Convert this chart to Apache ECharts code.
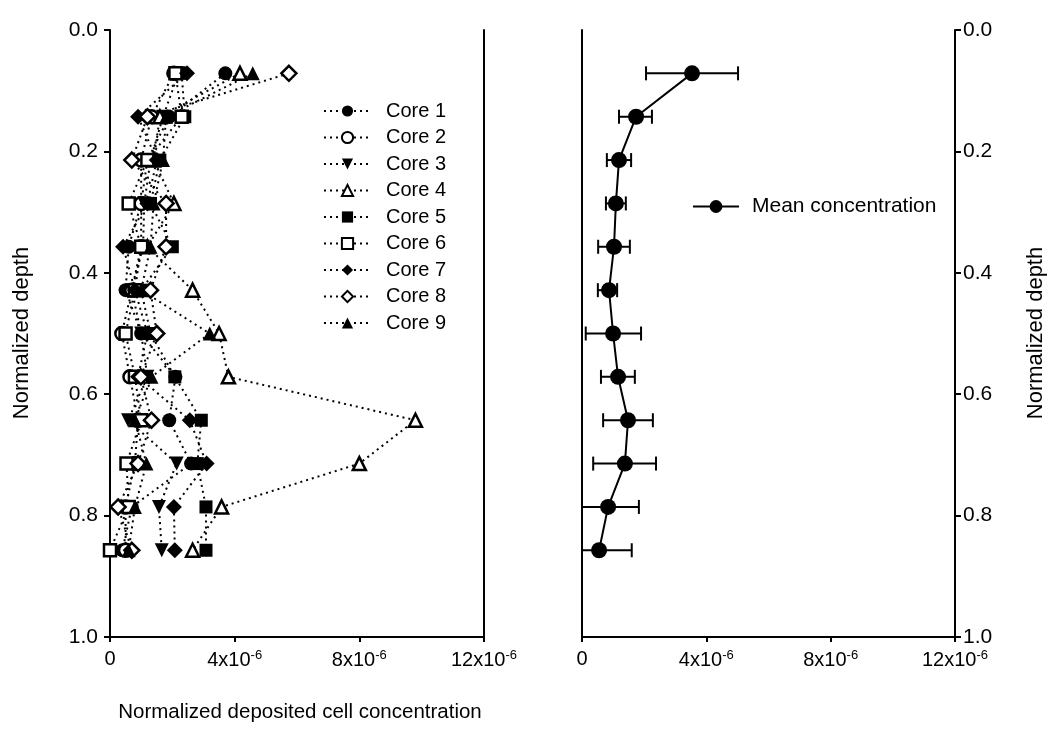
<!DOCTYPE html>
<html><head><meta charset="utf-8">
<script src="https://cdn.jsdelivr.net/npm/echarts@6/dist/echarts.min.js"></script>
<style>html,body{margin:0;padding:0;background:#fff}#c{width:1058px;height:741px}</style>
</head><body><div id="c"></div>
<script>
// values in units of 1e-6
const depths = [0.0714, 0.1429, 0.2143, 0.2857, 0.3571, 0.4286, 0.5, 0.5714, 0.6429, 0.7143, 0.7857, 0.8571];
const core1 = [3.7, 1.9, 1.2, 1.0, 0.6, 0.5, 1.0, 2.1, 1.9, 2.6, 0.7, 0.4];
const core2 = [2.05, 1.33, 1.0, 1.0, 1.0, 0.7, 0.38, 0.64, 0.9, 0.8, 0.5, 0.5];
const core3 = [2.2, 1.7, 1.3, 1.1, 1.06, 0.7, 1.0, 1.2, 0.58, 2.14, 1.57, 1.66];
const core4 = [4.17, 1.6, 1.4, 2.05, 1.2, 2.65, 3.5, 3.8, 9.8, 8.0, 3.58, 2.65];
const core5 = [2.3, 2.4, 1.6, 1.3, 2.0, 1.0, 1.3, 2.08, 2.93, 2.8, 3.08, 3.08];
const core6 = [2.1, 2.3, 1.2, 0.6, 1.0, 0.8, 0.5, 0.8, 1.0, 0.53, 0.6, 0.0];
const core7 = [2.47, 0.9, 1.5, 1.2, 0.42, 0.8, 1.2, 0.9, 2.56, 3.1, 2.05, 2.08];
const core8 = [5.74, 1.2, 0.7, 1.8, 1.8, 1.3, 1.5, 0.99, 1.33, 0.9, 0.26, 0.7];
const core9 = [4.58, 1.8, 1.7, 1.4, 1.3, 1.0, 3.2, 1.33, 0.8, 1.17, 0.8, 0.6];
const meanConc = [3.54, 1.74, 1.19, 1.09, 1.03, 0.87, 1.0, 1.16, 1.48, 1.38, 0.84, 0.55];
const errLow  = [1.48, 0.55, 0.39, 0.32, 0.51, 0.36, 0.88, 0.55, 0.80, 1.02, 0.99, 1.05];
const errHigh = [1.48, 0.51, 0.39, 0.32, 0.51, 0.26, 0.90, 0.54, 0.80, 1.00, 0.99, 1.05];
const depthTicks = [0, 0.2, 0.4, 0.6, 0.8, 1.0];
const concTicks = [0, 4, 8, 12];

const FONT = 'Liberation Sans';
const coreNames = ['Core 1','Core 2','Core 3','Core 4','Core 5','Core 6','Core 7','Core 8','Core 9'];
const coreData = [core1, core2, core3, core4, core5, core6, core7, core8, core9];
const sym = [
  {s:'circle', fill:true, size:14, rot:0},
  {s:'circle', fill:false, size:13, rot:0},
  {s:'triangle', fill:true, size:14, rot:180},
  {s:'triangle', fill:false, size:13, rot:0},
  {s:'rect', fill:true, size:13, rot:0},
  {s:'rect', fill:false, size:12, rot:0},
  {s:'diamond', fill:true, size:16, rot:0},
  {s:'diamond', fill:false, size:15, rot:0},
  {s:'triangle', fill:true, size:14, rot:0}
];

function xLabel(v){ return v === 0 ? '0' : v + 'x10{sup|-6}'; }

const yLabelStyle = {color:'#000', fontSize:21, fontFamily:FONT, formatter:v=>v.toFixed(1)};
const yAxisBase = {
  type:'value', min:0, max:1, interval:0.2, inverse:true,
  splitLine:{show:false},
  axisLine:{show:true, lineStyle:{color:'#000', width:2}},
  axisTick:{show:true, length:6, lineStyle:{color:'#000', width:2}},
  axisLabel:yLabelStyle
};
const yBorder = {
  type:'value', min:0, max:1, interval:0.2, inverse:true,
  splitLine:{show:false},
  axisLine:{show:true, lineStyle:{color:'#000', width:2}},
  axisTick:{show:false}, axisLabel:{show:false}
};
const xAxisBase = {
  type:'value', min:0, max:12, interval:4,
  splitLine:{show:false},
  axisLine:{show:true, onZero:false, lineStyle:{color:'#000', width:2}},
  axisTick:{show:true, length:5, lineStyle:{color:'#000', width:2}},
  axisLabel:{color:'#000', fontSize:20, fontFamily:FONT, margin:12, formatter:xLabel,
    rich:{sup:{fontSize:13, fontFamily:FONT, color:'#000', verticalAlign:'top', padding:[0,0,10,0]}}}
};

const series = coreData.map((arr, i) => ({
  name: coreNames[i], type:'line', xAxisIndex:0, yAxisIndex:0,
  data: arr.map((v, j) => [v, depths[j]]),
  symbol: sym[i].s, symbolSize: sym[i].size, symbolRotate: sym[i].rot,
  showSymbol:true,
  lineStyle:{color:'#000', width:2, type:[2,4]},
  itemStyle:{color: sym[i].fill ? '#000' : '#fff', borderColor:'#000', borderWidth: sym[i].fill ? 0 : 2.5},
  emphasis:{disabled:true}, animation:false
}));

series.push({
  name:'errbars', type:'custom', xAxisIndex:1, yAxisIndex:3, clip:true,
  data: meanConc.map((m, j) => [m - errLow[j], m + errHigh[j], depths[j]]),
  renderItem: function(params, api){
    const p1 = api.coord([api.value(0), api.value(2)]);
    const p2 = api.coord([api.value(1), api.value(2)]);
    const h = 7;
    const st = {stroke:'#000', lineWidth:2};
    return {type:'group', children:[
      {type:'line', shape:{x1:p1[0], y1:p1[1], x2:p2[0], y2:p2[1]}, style:st},
      {type:'line', shape:{x1:p1[0], y1:p1[1]-h, x2:p1[0], y2:p1[1]+h}, style:st},
      {type:'line', shape:{x1:p2[0], y1:p2[1]-h, x2:p2[0], y2:p2[1]+h}, style:st}
    ]};
  },
  animation:false, silent:true
});
series.push({
  name:'Mean concentration', type:'line', xAxisIndex:1, yAxisIndex:3,
  data: meanConc.map((m, j) => [m, depths[j]]),
  symbol:'circle', symbolSize:16, showSymbol:true,
  lineStyle:{color:'#000', width:2},
  itemStyle:{color:'#000'},
  emphasis:{disabled:true}, animation:false
});

const option = {
  backgroundColor:'#fff',
  animation:false,
  grid:[
    {left:110, top:30, width:374, height:607},
    {left:582, top:30, width:373, height:607}
  ],
  xAxis:[
    Object.assign({}, xAxisBase, {gridIndex:0, position:'bottom'}),
    Object.assign({}, xAxisBase, {gridIndex:1, position:'bottom'})
  ],
  yAxis:[
    Object.assign({}, yAxisBase, {gridIndex:0, position:'left', axisLabel:Object.assign({}, yLabelStyle, {margin:12})}),
    Object.assign({}, yBorder, {gridIndex:0, position:'right'}),
    Object.assign({}, yBorder, {gridIndex:1, position:'left'}),
    Object.assign({}, yAxisBase, {gridIndex:1, position:'right', axisLabel:Object.assign({}, yLabelStyle, {margin:8})})
  ],
  legend:[
    {data:coreNames, orient:'vertical', left:323, top:101, padding:0, itemWidth:47, itemHeight:14, itemGap:6.5,
     textStyle:{color:'#000', fontSize:20, fontFamily:FONT, padding:[0,0,0,10]}, selectedMode:false},
    {data:['Mean concentration'], orient:'vertical', left:692, top:196, padding:0, itemWidth:46, itemHeight:16,
     textStyle:{color:'#000', fontSize:21, fontFamily:FONT, padding:[0,0,0,8]}, selectedMode:false}
  ],
  graphic:[
    {type:'text', style:{text:'Normalized depth', fontSize:22, fontFamily:FONT, fill:'#000', align:'center', verticalAlign:'middle'}, x:22, y:333, rotation:Math.PI/2},
    {type:'text', style:{text:'Normalized depth', fontSize:22, fontFamily:FONT, fill:'#000', align:'center', verticalAlign:'middle'}, x:1036, y:333, rotation:Math.PI/2},
    {type:'text', style:{text:'Normalized deposited cell concentration', fontSize:20.5, fontFamily:FONT, fill:'#000', align:'center', verticalAlign:'middle'}, x:300, y:712}
  ],
  series: series
};

const chart = echarts.init(document.getElementById('c'), null, {renderer:'canvas'});
chart.setOption(option);
</script></body></html>
